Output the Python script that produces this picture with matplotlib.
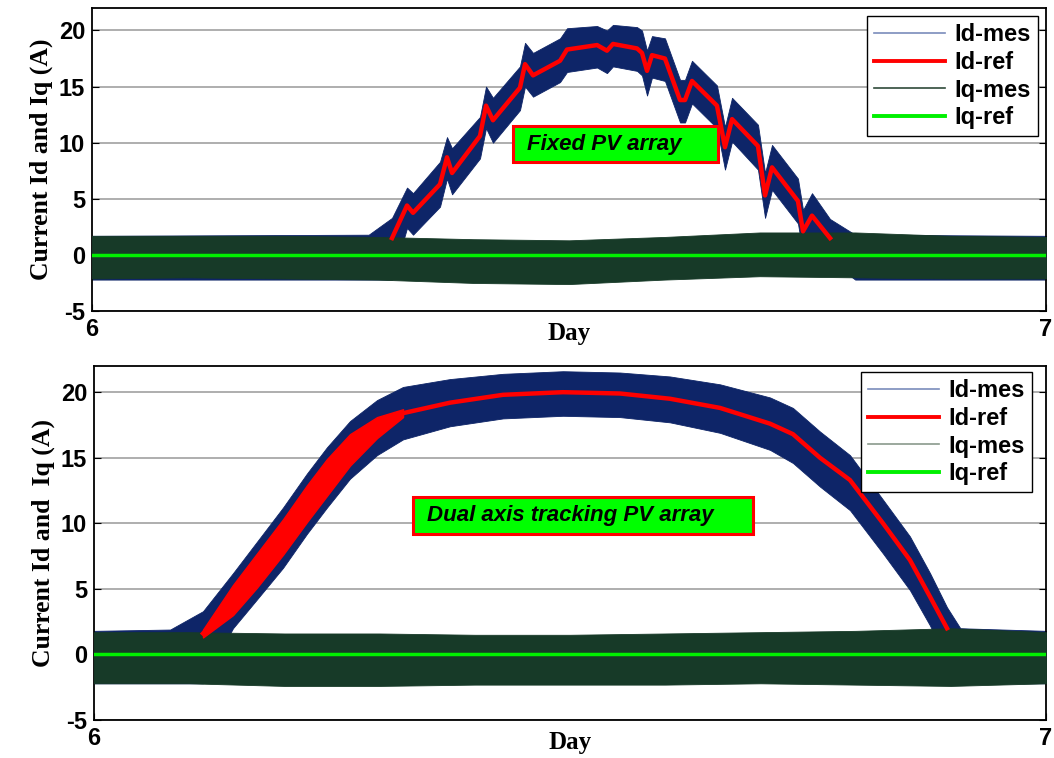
import numpy as np
import matplotlib.pyplot as plt
from matplotlib.lines import Line2D
from matplotlib.patches import Rectangle

# ---- Fixed PV array (top panel) ----
fix_t = [6.3145, 6.3302, 6.3365, 6.3648, 6.3721, 6.3774, 6.4067, 6.4130, 6.4203,
         6.4486, 6.4539, 6.4623, 6.4906, 6.4979, 6.5294, 6.5398, 6.5461, 6.5713,
         6.5765, 6.5818, 6.5870, 6.6006, 6.6164, 6.6216, 6.6289, 6.6551, 6.6635,
         6.6709, 6.6981, 6.7055, 6.7128, 6.7400, 6.7453, 6.7547, 6.7736]
fix_id_ref = [1.5, 4.4, 3.75, 6.3, 8.7, 7.3, 10.6, 13.3, 12.0,
              14.9, 17.0, 16.0, 17.3, 18.3, 18.7, 18.2, 18.8, 18.4,
              18.0, 16.4, 17.8, 17.5, 13.8, 13.8, 15.5, 13.3, 9.6,
              12.1, 9.7, 5.3, 7.8, 4.8, 2.1, 3.5, 1.5]

# measured Id band (upper / lower edge of the ripple)
fix_mes_t = [6.0, 6.29] + fix_t + [6.80, 7.0]
fix_id_hi = [1.7, 1.8, 3.3, 6.0, 5.5, 8.3, 10.5, 9.5, 12.3, 15.0, 14.0,
             16.8, 18.9, 18.0, 19.3, 20.2, 20.4, 20.0, 20.5, 20.3,
             20.0, 18.2, 19.5, 19.3, 15.6, 15.6, 17.3, 15.1, 11.4,
             14.0, 11.6, 7.3, 9.8, 6.8, 4.0, 5.5, 3.2, 1.8, 1.7]
fix_id_lo = [-2.2, -2.2, -2.2, 2.4, 1.8, 4.3, 6.8, 5.4, 8.6, 11.3, 10.0,
             12.9, 15.0, 14.1, 15.4, 16.3, 16.7, 16.2, 16.8, 16.4,
             16.0, 14.2, 15.8, 15.5, 11.8, 11.8, 13.5, 11.3, 7.6,
             10.1, 7.6, 3.3, 5.8, 2.8, 0.1, 1.5, -0.5, -2.2, -2.2]

iq_t = [6.0, 6.1, 6.2, 6.3, 6.4, 6.5, 6.6, 6.7, 6.8, 6.9, 7.0]
fix_iq_hi = [1.7, 1.7, 1.7, 1.6, 1.4, 1.3, 1.6, 2.0, 2.0, 1.7, 1.6]
fix_iq_lo = [-2.1, -2.0, -2.1, -2.2, -2.5, -2.6, -2.2, -1.9, -2.0, -2.1, -2.1]

# ---- Dual axis tracking PV array (bottom panel) ----
trk_t = [6.1145, 6.1460, 6.1712, 6.1985, 6.2237, 6.2447, 6.2689, 6.2973, 6.3246,
         6.3739, 6.4296, 6.4926, 6.5525, 6.6050, 6.6576, 6.7101, 6.7342, 6.7626,
         6.7941, 6.8288, 6.8571, 6.8782, 6.8960]
trk_id_ref = [1.6, 4.1, 6.4, 8.9, 11.5, 13.5, 15.6, 17.3, 18.4,
              19.2, 19.8, 20.0, 19.9, 19.5, 18.8, 17.6, 16.8, 15.0,
              13.3, 10.0, 7.2, 4.4, 2.0]
# reference ripple during the morning ramp
trk_ref_band_t = trk_t[:9]
trk_ref_hi = [1.9, 5.3, 7.7, 10.3, 12.9, 14.9, 16.8, 18.1, 18.7]
trk_ref_lo = [1.3, 3.0, 5.1, 7.6, 10.1, 12.1, 14.4, 16.5, 18.1]

trk_mes_t = [6.0, 6.08] + trk_t + [6.91, 7.0]
trk_id_hi = [1.8, 1.9, 3.3, 6.2, 8.6, 11.2, 13.8, 15.8, 17.8, 19.4, 20.4,
             21.0, 21.4, 21.6, 21.5, 21.2, 20.6, 19.6, 18.8, 17.0,
             15.2, 11.8, 9.0, 6.2, 3.6, 2.0, 1.8]
trk_id_lo = [-2.2, -2.2, -2.2, 2.0, 4.2, 6.6, 9.2, 11.2, 13.4, 15.2, 16.4,
             17.4, 18.0, 18.2, 18.1, 17.7, 16.9, 15.6, 14.6, 12.8,
             11.0, 7.7, 4.9, 2.2, -0.5, -2.2, -2.2]

trk_iq_hi = [1.7, 1.7, 1.6, 1.6, 1.5, 1.5, 1.6, 1.7, 1.8, 2.0, 1.7]
trk_iq_lo = [-2.2, -2.2, -2.4, -2.4, -2.3, -2.3, -2.3, -2.2, -2.3, -2.4, -2.2]

C_IDMES = '#0E2568'
C_IQMES = '#173A28'
C_REF = '#FF0000'
C_IQREF = '#00F000'

plt.rcParams['font.family'] = ['Liberation Sans', 'DejaVu Sans']
plt.rcParams['axes.unicode_minus'] = False

fig = plt.figure(figsize=(10.54, 7.58), dpi=100)
ax1 = fig.add_axes([0.0873, 0.5897, 0.9051, 0.3997])
ax2 = fig.add_axes([0.0892, 0.0501, 0.9032, 0.4671])


def draw_panel(ax, mes_t, id_hi, id_lo, iq_hi, iq_lo, ref_t, id_ref, ylabel, box, box_text,
               leg_anchor, iq_leg_color):
    ax.fill_between(mes_t, id_lo, id_hi, color=C_IDMES, lw=0.6, zorder=2)
    ax.fill_between(iq_t, iq_lo, iq_hi, color=C_IQMES, lw=0.6, zorder=3)
    ax.plot(ref_t, id_ref, color=C_REF, lw=3.2, zorder=4)
    ax.axhline(0, color=C_IQREF, lw=2.5, zorder=5)

    ax.set_xlim(6, 7)
    ax.set_ylim(-5, 22)
    ax.set_xticks([6, 7])
    ax.set_yticks([-5, 0, 5, 10, 15, 20])
    ax.yaxis.grid(True, color='#A8A8A8', lw=1.3, zorder=0)
    ax.set_axisbelow(True)
    ax.tick_params(direction='in', right=True, top=False, length=5, labelsize=17, pad=5)
    for lab in ax.get_xticklabels() + ax.get_yticklabels():
        lab.set_fontweight('bold')
    for s in ax.spines.values():
        s.set_linewidth(1.3)

    ax.set_ylabel(ylabel, family='Liberation Serif', fontweight='bold', fontsize=18.5, labelpad=4)
    ax.set_xlabel('Day', family='Liberation Serif', fontweight='bold', fontsize=18, labelpad=-14)

    x0, y0, w, h = box
    ax.add_patch(Rectangle((x0, y0), w, h, transform=ax.transAxes, facecolor='#00FF00',
                           edgecolor='#FF0000', lw=2.2, zorder=6))
    ax.text(x0 + 0.015, y0 + h / 2, box_text, transform=ax.transAxes, fontsize=16,
            fontweight='bold', style='italic', va='center', ha='left', zorder=7)

    handles = [Line2D([], [], color='#7A8CBB', lw=1.2),
               Line2D([], [], color=C_REF, lw=2.8),
               Line2D([], [], color=iq_leg_color, lw=1.2),
               Line2D([], [], color=C_IQREF, lw=2.8)]
    leg = ax.legend(handles, ['Id-mes', 'Id-ref', 'Iq-mes', 'Iq-ref'], loc='upper right',
                    bbox_to_anchor=leg_anchor, frameon=True, fancybox=False, framealpha=1,
                    edgecolor='black', handlelength=3.0, handletextpad=0.4, labelspacing=0.2,
                    borderpad=0.3, borderaxespad=0, prop={'weight': 'bold', 'size': 17})
    leg.get_frame().set_linewidth(1.0)
    leg.set_zorder(10)


draw_panel(ax1, fix_mes_t, fix_id_hi, fix_id_lo, fix_iq_hi, fix_iq_lo, fix_t, fix_id_ref,
           'Current Id and Iq (A)', (0.441, 0.4917, 0.215, 0.119), 'Fixed PV array',
           (0.9916, 0.9736), '#2F4A3A')

ax2.fill_between(trk_ref_band_t, trk_ref_lo, trk_ref_hi, color=C_REF, lw=1, zorder=4)
draw_panel(ax2, trk_mes_t, trk_id_hi, trk_id_lo, trk_iq_hi, trk_iq_lo, trk_t, trk_id_ref,
           'Current Id and  Iq (A)', (0.335, 0.5254, 0.357, 0.1046),
           'Dual axis tracking PV array', (0.985, 0.983), '#8A9A8C')

fig.savefig('out.png', dpi=100)
